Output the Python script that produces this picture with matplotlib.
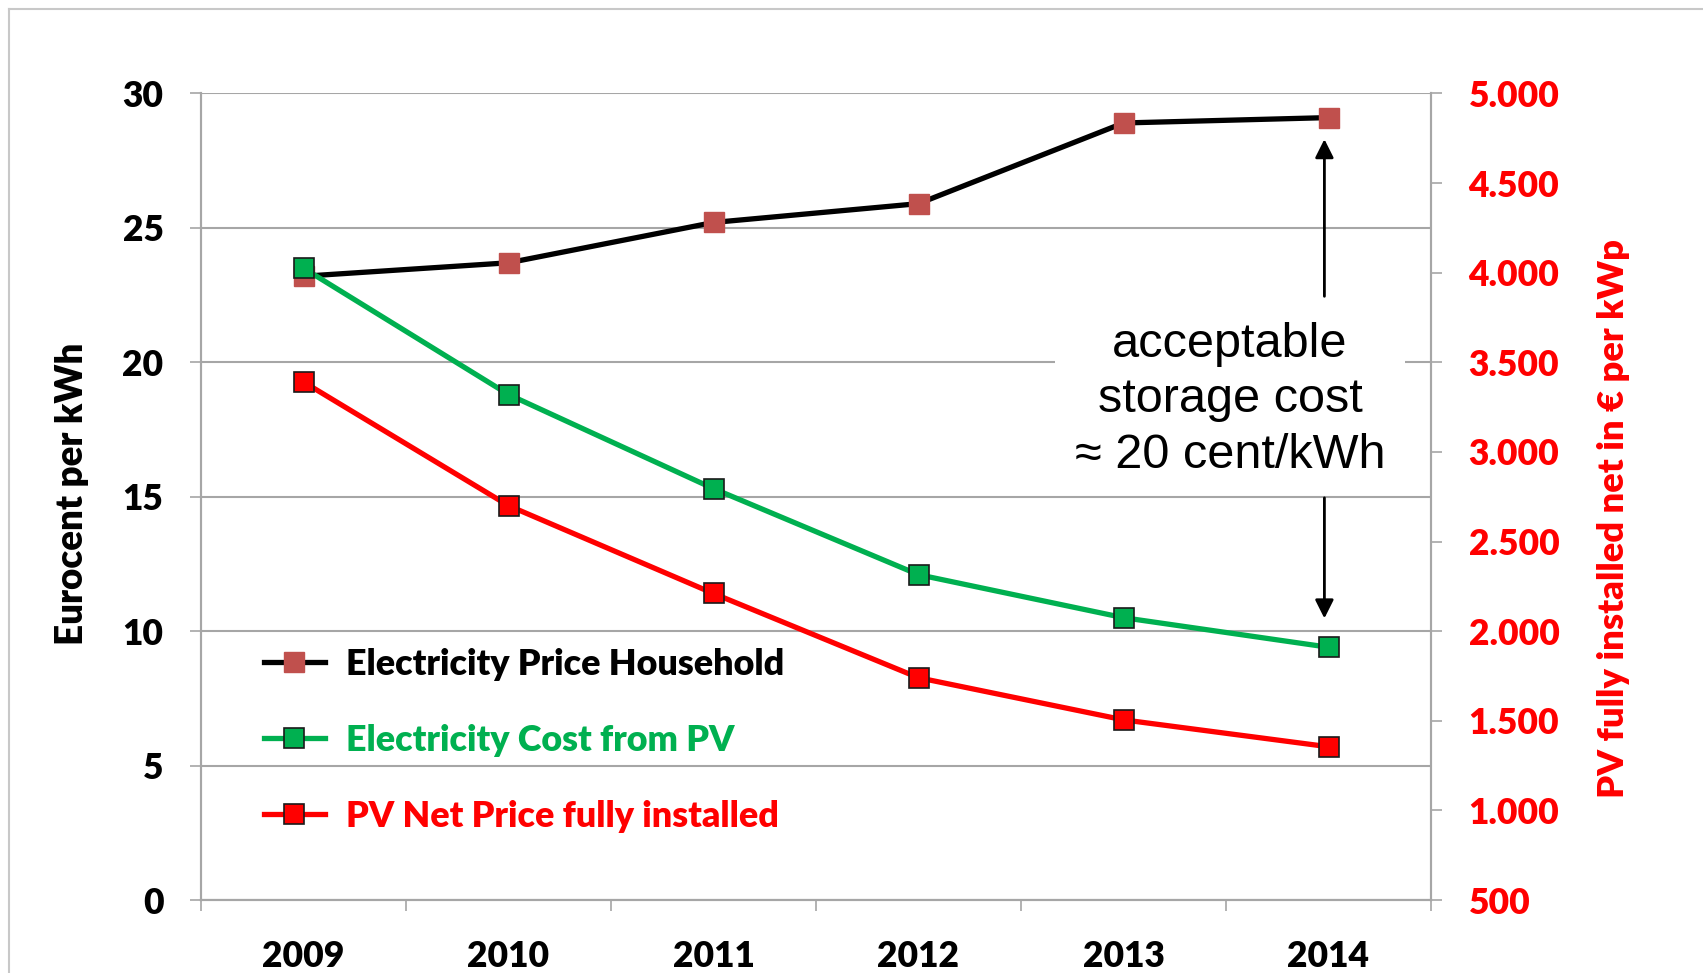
import matplotlib
matplotlib.use("Agg")
import matplotlib.pyplot as plt
from matplotlib.lines import Line2D
from matplotlib.patches import Rectangle

years = ["2009", "2010", "2011", "2012", "2013", "2014"]
household = [23.2, 23.7, 25.2, 25.9, 28.9, 29.1]        # Eurocent per kWh
pv_cost = [23.5, 18.8, 15.3, 12.1, 10.5, 9.4]           # Eurocent per kWh
pv_price = [3390, 2700, 2210, 1740, 1505, 1355]         # EUR per kWp (right axis)
left_ticks = [0, 5, 10, 15, 20, 25, 30]
right_ticks = [500, 1000, 1500, 2000, 2500, 3000, 3500, 4000, 4500, 5000]

BLACK, BROWN, GREEN, RED, GRID = "#000000", "#C0504D", "#00B050", "#FF0000", "#A6A6A6"
FONT = "Lato"
WT = "heavy"
FS = 25.5
LW = 3.8

W, H = 1703, 973
fig = plt.figure(figsize=(W / 100, H / 100), dpi=100)
ax = fig.add_axes([201 / W, 1 - 900 / H, 1230 / W, 806.6 / H])
ax2 = ax.twinx()

x = list(range(len(years)))
ax.plot(x, household, color=BLACK, lw=LW, marker="s", ms=15, mfc=BROWN, mec=BROWN, zorder=3)
ax.plot(x, pv_cost, color=GREEN, lw=LW, marker="s", ms=15, mfc=GREEN, mec="#1a1a1a", mew=1.2, zorder=4)
ax2.plot(x, pv_price, color=RED, lw=LW, marker="s", ms=15, mfc=RED, mec="#1a1a1a", mew=1.2, zorder=4)

ax.set_xlim(-0.5, 5.5)
ax.set_ylim(0, 30)
ax2.set_ylim(500, 5000)

ax.set_yticks(left_ticks)
ax.set_yticklabels([str(t) for t in left_ticks], fontsize=FS, fontweight=WT, family=FONT)
ax2.set_yticks(right_ticks)
ax2.set_yticklabels([f"{t:,}".replace(",", ".") for t in right_ticks], fontsize=FS,
                    fontweight=WT, family=FONT, color=RED)
ax.set_xticks(x)
ax.set_xticklabels(years, fontsize=FS, fontweight=WT, family=FONT)
ax.set_xticks([i - 0.5 for i in range(len(years) + 1)], minor=True)
ax.tick_params(axis="x", which="major", length=0, pad=29)
ax.tick_params(axis="x", which="minor", length=8, color=GRID, width=1.2)
ax.tick_params(axis="y", length=8, color=GRID, width=1.2, pad=19)
ax2.tick_params(axis="y", length=8, color=GRID, width=1.2, pad=19)

ax.yaxis.grid(True, color=GRID, lw=1.5)
ax.set_axisbelow(True)
for a in (ax, ax2):
    a.spines["top"].set_visible(False)
    for s in a.spines.values():
        s.set_color(GRID)
        s.set_linewidth(1.5)

# annotation about storage cost: white patch hides the 20-gridline behind the text
ax.add_patch(Rectangle((3.666, 15.4), 5.373 - 3.666, 22.0 - 15.4, facecolor="white",
                       edgecolor="none", zorder=2))
ax.text(4.52, 18.6, "acceptable\nstorage cost\n\u2248 20 cent/kWh", ha="center", va="center",
        fontsize=35, family="Liberation Sans", color="black", zorder=5, linespacing=1.3)
ax.annotate("", xy=(4.98, 28.4), xytext=(4.98, 22.35),
            arrowprops=dict(arrowstyle="-|>", color="black", lw=2, mutation_scale=28), zorder=6)
ax.annotate("", xy=(4.98, 10.37), xytext=(4.98, 15.06),
            arrowprops=dict(arrowstyle="-|>", color="black", lw=2, mutation_scale=28), zorder=6)

handles = [
    Line2D([], [], color=BLACK, lw=LW, marker="s", ms=15, mfc=BROWN, mec=BROWN),
    Line2D([], [], color=GREEN, lw=LW, marker="s", ms=15, mfc=GREEN, mec="#1a1a1a", mew=1.2),
    Line2D([], [], color=RED, lw=LW, marker="s", ms=15, mfc=RED, mec="#1a1a1a", mew=1.2),
]
labels = ["Electricity Price Household", "Electricity Cost from PV", "PV Net Price fully installed"]
leg = ax2.legend(handles, labels, loc="upper left", bbox_to_anchor=(0.051, 0.313), frameon=False,
                 prop=dict(family=FONT, weight=WT, size=25.8), handlelength=1.7,
                 handletextpad=0.6, labelspacing=1.2, borderpad=0, borderaxespad=0)
for t, c in zip(leg.get_texts(), [BLACK, GREEN, RED]):
    t.set_color(c)

fig.text(72 / W, 1 - 494 / H, "Eurocent per kWh", rotation=90, ha="center", va="center",
         fontsize=26.5, fontweight=WT, family=FONT)
fig.text(1613 / W, 1 - 519 / H, "PV fully installed net in \u20ac per kWp", rotation=90,
         ha="center", va="center", fontsize=26.2, fontweight=WT, family=FONT, color=RED)

# outer chart frame
fig.add_artist(Line2D([9 / W, 9 / W], [0, 1 - 9 / H], transform=fig.transFigure, color="#C8C8C8", lw=1.5))
fig.add_artist(Line2D([9 / W, 1], [1 - 9 / H, 1 - 9 / H], transform=fig.transFigure, color="#C8C8C8", lw=1.5))

fig.savefig("out.png", dpi=100)
